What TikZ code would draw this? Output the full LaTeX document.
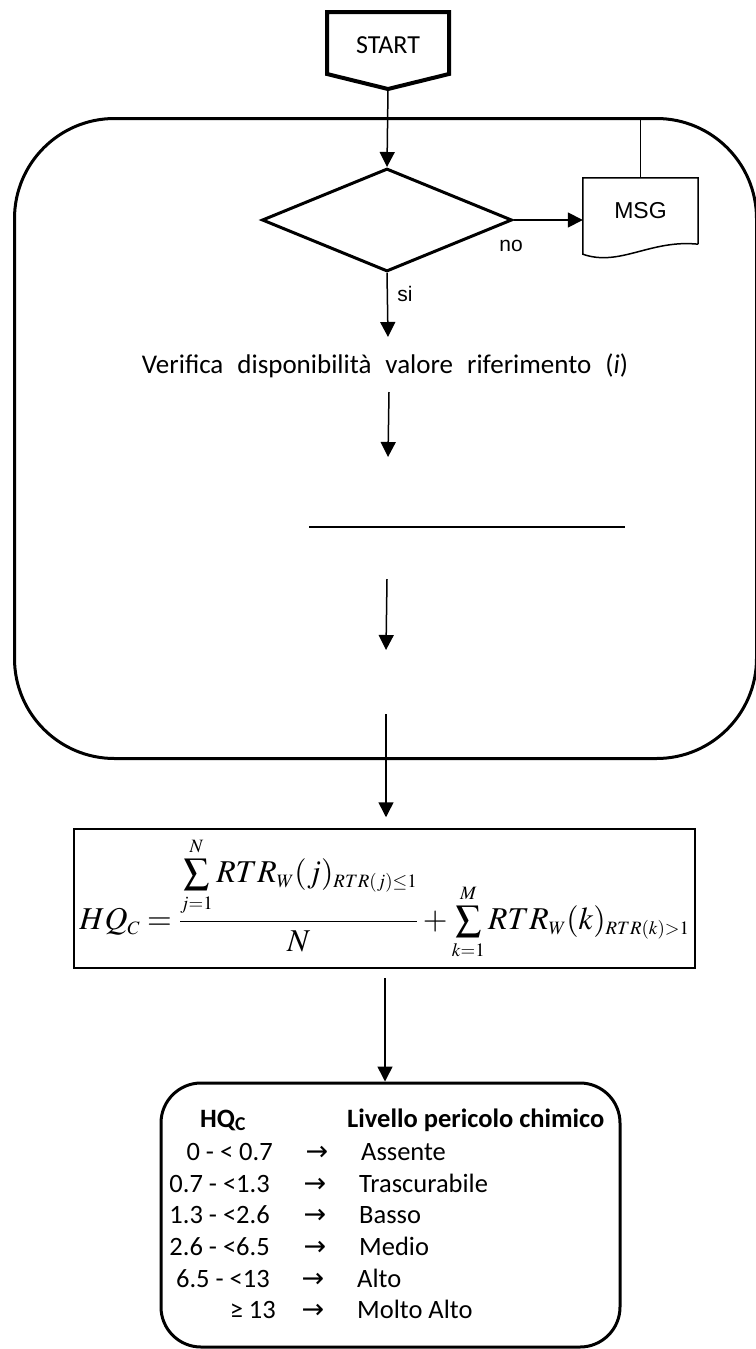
\documentclass[tikz,border=0pt]{standalone}
\usepackage{mathptmx}
\usepackage[no-math]{fontspec}
\setmainfont{Carlito}
\newfontfamily\arialfont{Liberation Sans}
\newfontfamily\dejavu{DejaVu Sans}
\usetikzlibrary{arrows.meta,shapes.geometric}
\DeclareMathSizes{32}{32}{19}{15}

\tikzset{
  flow/.style={line width=1.5pt, -{Triangle[length=15pt,width=15pt]}},
  thinline/.style={line width=1.5pt},
  heavy/.style={line width=3pt},
  lbl/.style={font=\arialfont\fontsize{21}{25}\selectfont, inner sep=0pt},
  cell/.style={font=\fontsize{26.5}{30}\selectfont, inner sep=0pt},
  cellb/.style={font=\bfseries\fontsize{26.5}{30}\selectfont, inner sep=0pt},
  arr/.style={font=\dejavu\fontsize{27}{30}\selectfont, inner sep=0pt, anchor=base},
}
% summation with limits, sized between text and display style
\newcommand{\midsum}[2]{\mathop{\vcenter{\hbox{\scalebox{0.8}{$\displaystyle\sum$}}}}\limits_{#1}^{#2}}

\begin{document}
\begin{tikzpicture}[x=1pt,y=-1pt]
\useasboundingbox (0,0) rectangle (755,1349);
\fill[white] (0,0) rectangle (755,1349);

% outer frame of the check procedure
\node[draw, heavy, rounded corners=100pt, minimum width=742pt, minimum height=640pt, inner sep=0pt] (frame) at (385.5,438.5) {};

% start terminal
\draw[line width=4pt, line join=miter] (327,12) -- (449,12) -- (449,74) -- (388,89) -- (327,74) -- cycle;
\node[font=\fontsize{26}{30}\selectfont, inner sep=0pt] (start) at (388,45) {START};
\coordinate (starttip) at (388,89);

% decision
\node[diamond, draw, heavy, minimum width=250pt, minimum height=103pt, inner sep=0pt] (dia) at (387,220) {};
\draw[flow] (starttip) -- (dia.north);

% message document
\node[minimum width=115pt, minimum height=66pt, inner sep=0pt, font=\arialfont\fontsize{23}{27}\selectfont] (msg) at (640.5,211) {MSG};
\draw[thinline] (msg.south east) -- (msg.north east) -- (msg.north west) -- ([yshift=-10pt]msg.south west)
  .. controls ([xshift=37pt,yshift=-23pt]msg.south west) and ([xshift=-48pt,yshift=5pt]msg.south east) .. (msg.south east);
\draw[thinline] (msg.north) -- (msg.north |- frame.north);
\draw[flow] (dia.east) -- (msg.west |- dia.east);
\node[lbl] (nolbl) at (511,246) {no};

% yes branch
\coordinate (siend) at (388,337);
\draw[flow] (dia.south) -- (siend);
\node[lbl] (silbl) at (405,294) {si};

\node[anchor=base, inner sep=0pt, font=\fontsize{27}{30}\selectfont] (verif) at (385,373)
  {\spaceskip=14pt Verifica disponibilità valore riferimento (\textit{i})};

\coordinate (c2) at (389,392);
\coordinate (c3) at (388,457);
\draw[flow] (c2) -- (c3);

\coordinate (h1) at (309,527);
\coordinate (h2) at (625,527);
\draw[thinline] (h1) -- (h2);

\coordinate (c4) at (387,579);
\coordinate (c5) at (386,650);
\draw[flow] (c4) -- (c5);

% hazard quotient formula
\node[draw, thinline, minimum width=621pt, minimum height=139pt, inner sep=0pt,
      font=\fontsize{32}{38}\selectfont] (formula) at (384.5,898.5)
  {\resizebox{610pt}{!}{$\displaystyle HQ_C=\frac{\midsum{j=1}{N}RTR_W(j)_{RTR(j)\le1}}{N}+\midsum{k=1}{M}RTR_W(k)_{RTR(k)>1}$}};

\coordinate (c6) at (386,714);
\draw[flow, shorten >=11pt] (c6) -- (c6 |- formula.north);

% classification table
\node[draw, heavy, rounded corners=40pt, minimum width=459pt, minimum height=264pt, inner sep=0pt] (table) at (390.5,1215) {};
\coordinate (c7) at (385,978);
\draw[flow] (c7) -- (c7 |- table.north);

\node[cellb, anchor=base west] (hqh) at (200,1127) {HQ\textsubscript{C}};
\node[cellb, anchor=base west] (lvh) at (347,1127) {Livello pericolo chimico};

\node[cell, anchor=base east] (v1) at (273,1160) {0 - < 0.7};
\node[cell, anchor=base east] (v2) at (270,1192) {0.7 - <1.3};
\node[cell, anchor=base east] (v3) at (270,1223) {1.3 - <2.6};
\node[cell, anchor=base east] (v4) at (270,1255) {2.6 - <6.5};
\node[cell, anchor=base east] (v5) at (270,1287) {6.5 - <13};
\node[cell, anchor=base east] (v6) at (276,1318) {≥ 13};

\node[arr] (a1) at (317,1160) {→};
\node[arr] (a2) at (315,1192) {→};
\node[arr] (a3) at (315,1223) {→};
\node[arr] (a4) at (315,1255) {→};
\node[arr] (a5) at (313,1287) {→};
\node[arr] (a6) at (313,1318) {→};

\node[cell, anchor=base west] (l1) at (361,1160) {Assente};
\node[cell, anchor=base west] (l2) at (359,1192) {Trascurabile};
\node[cell, anchor=base west] (l3) at (359,1223) {Basso};
\node[cell, anchor=base west] (l4) at (359,1255) {Medio};
\node[cell, anchor=base west] (l5) at (357,1287) {Alto};
\node[cell, anchor=base west] (l6) at (357,1318) {Molto Alto};
\end{tikzpicture}
\end{document}
